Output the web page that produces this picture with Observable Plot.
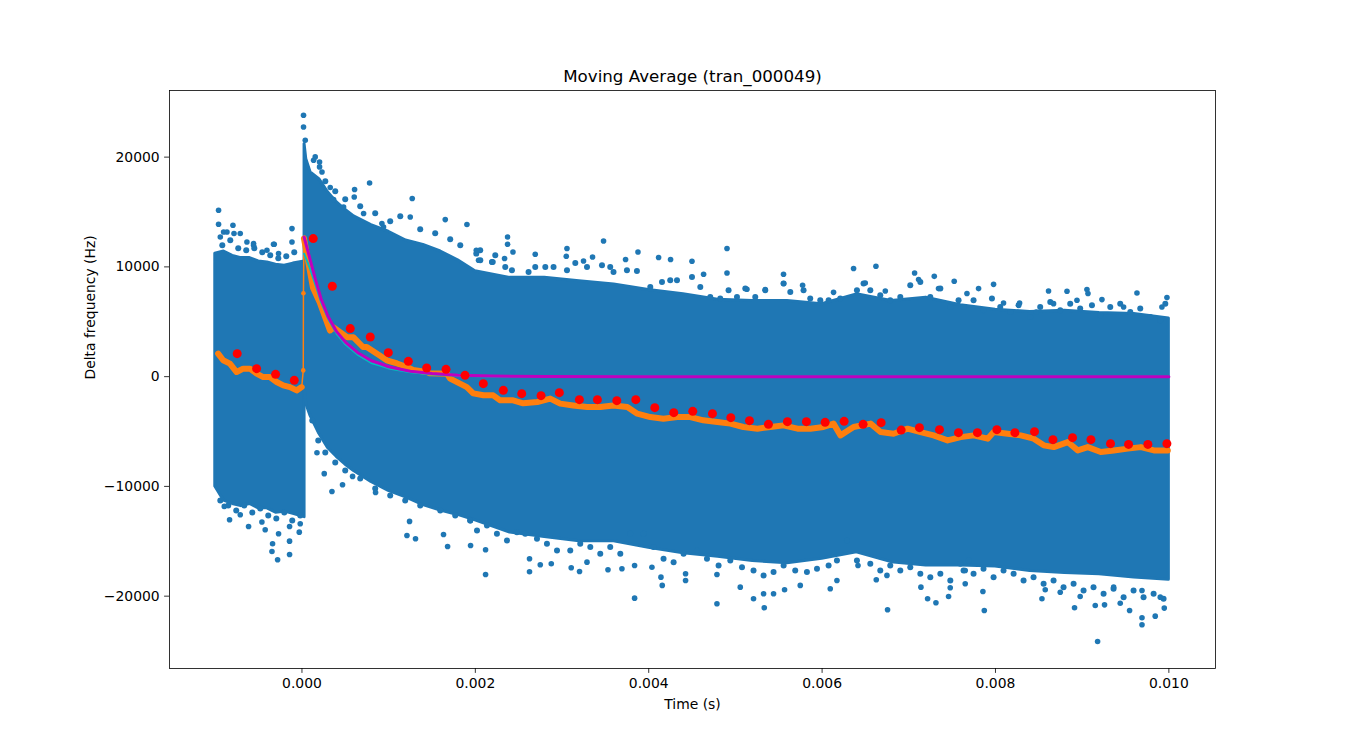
<!DOCTYPE html>
<html><head><meta charset="utf-8">
<script src="https://cdn.jsdelivr.net/npm/d3@7"></script>
<script src="https://cdn.jsdelivr.net/npm/@observablehq/plot@0.6"></script>
<style>body{margin:0;background:#fff} #chart svg{display:block}</style>
</head><body><div id="chart"></div>
<script>
// ---- Data ----
const titleText = "Moving Average (tran_000049)";
const xLabel = "Time (s)";
const yLabel = "Delta frequency (Hz)";
const xTicks = [0, 0.002, 0.004, 0.006, 0.008, 0.010];
const yTicks = [-20000, -10000, 0, 10000, 20000];

// dense core of the raw scatter (pre-trigger segment)
const preT  = [-0.00100, -0.0009, -0.0008, -0.0007, -0.0006, -0.0005, -0.0004, -0.0003, -0.0002, -0.0001, 0.00003];
const preHi = [11200, 11400, 11000, 10800, 10800, 10500, 10400, 10200, 10100, 10300, 10500];
const preLo = [-10000, -11300, -11600, -11800, -11600, -12000, -12000, -12400, -12300, -12500, -12800];

// dense core of the raw scatter (post-trigger segment)
const postT  = [0.00003, 0.00005, 0.0001, 0.0002, 0.0003, 0.0004, 0.0005, 0.0006, 0.0008, 0.0010, 0.0012, 0.0014, 0.0016, 0.0018, 0.0020, 0.0024, 0.0028, 0.0032, 0.0036, 0.0040, 0.0044, 0.0048, 0.0052, 0.0056, 0.0060, 0.0064, 0.0068, 0.0072, 0.0076, 0.0080, 0.0084, 0.0088, 0.0092, 0.0096, 0.0100];
const postHi = [21200, 19800, 18600, 18000, 16800, 15900, 15200, 14600, 13800, 13200, 12400, 12000, 11400, 10600, 9600, 9000, 9000, 8700, 8400, 7900, 7500, 7000, 6900, 6900, 6600, 7500, 6900, 7200, 6500, 6100, 5900, 6000, 5800, 5700, 5300];
const postLo = [-1000, -2500, -3600, -5200, -6500, -7300, -8000, -8600, -9600, -10400, -11000, -11700, -12200, -12600, -13100, -14200, -14600, -15000, -15000, -15600, -16100, -16400, -16800, -17000, -16600, -16000, -16900, -17200, -17200, -17300, -17700, -17900, -18000, -18300, -18500];

// scattered raw points outside the dense core
const outT = [
 -0.000962,-0.000962,-0.000796,-0.000904,-0.000712,-0.000558,-0.000320,-0.000115,-0.000115,-0.000784,-0.000558,-0.000328,-0.000270,-0.000404,-0.000635,-0.000942,-0.000865,
 0.000018,0.000018,0.000038,0.000153,0.000203,0.000231,0.000326,0.000607,0.000780,0.000603,0.001272,0.001653,0.001903,0.002192,0.001249,0.000941,0.000480,0.000134,0.000203,0.000365,0.000711,0.000922,
 0.002372,0.002372,0.002434,0.002337,0.002011,0.002037,0.002203,0.002691,0.003057,0.003049,0.003248,0.003352,0.003479,0.003876,0.003733,0.004114,0.004252,0.004499,0.004633,0.004903,0.004903,0.005555,0.005555,0.005775,0.006132,0.006363,0.006621,0.006498,0.006729,0.007067,0.007113,0.007294,0.007524,0.007343,0.005344,0.005133,
 0.007978,0.007805,0.007671,0.008093,0.008278,0.008612,0.008825,0.009055,0.009067,0.009228,0.009632,0.009478,0.009978,0.009920,0.008470,0.008670,0.008940,
 -0.000835,-0.000616,-0.000339,-0.000281,-0.000143,-0.000143,-0.000346,-0.000896,-0.000712,-0.000020,-0.000424,-0.000462,-0.000270,-0.000143,-0.000031,
 0.000173,0.000257,0.000346,0.000468,0.000584,0.000849,0.001211,0.001310,0.001241,0.001680,0.001633,0.001945,0.002118,0.002118,
 0.002625,0.002625,0.002749,0.002876,0.003106,0.003202,0.003288,0.003530,0.003691,0.003837,0.003837,0.004037,0.004141,0.004156,0.004425,0.004425,0.004787,0.004787,0.005056,0.005209,0.005333,0.005325,0.005440,0.005567,0.005748,0.006094,0.006171,0.006414,0.006625,0.006755,0.006748,0.007140,0.007217,0.007313,0.007459,0.007478,0.007651,
 0.009178,0.009690,0.009690,0.009843,0.009947,0.007871,0.007855,0.008912,0.009151,0.009258,0.009439,0.009547,0.008536,0.008574,0.008747,0.008977,0.007651,0.009901,0.009690,0.009363
];
const outV = [
 15160,13880,13790,13180,13040,11970,12060,13490,12270,13040,12120,12060,11210,11510,12270,12730,13180,
 23820,22750,21540,20020,19560,18650,17230,17050,17650,16370,16230,14310,13860,10450,14550,13640,15460,19720,19110,16140,14860,13950,
 12730,12060,11360,10760,11510,10600,10450,11150,11670,10970,10540,10900,12360,11360,10670,10850,10670,10510,9330,11670,9440,9330,8480,8320,7680,9850,10060,8530,7800,9440,8840,9140,8690,8020,7930,7960,
 8410,8020,7570,6710,6710,7800,7780,7930,7570,7020,7620,6350,7200,6350,5890,6650,6960,
 -13040,-13650,-15220,-16680,-16200,-14990,-15930,-11820,-12580,-13400,-13950,-13250,-14310,-13650,-14170,
 -6930,-8840,-10460,-9850,-9090,-10550,-14470,-14770,-13190,-15470,-14380,-15380,-15770,-18020,
 -17780,-16590,-17140,-17050,-17410,-17750,-16900,-17590,-17500,-20180,-17200,-17360,-18270,-19020,-18570,-17960,-20690,-18020,-19180,-20240,-21060,-19780,-19780,-19420,-19020,-19330,-18570,-17200,-18510,-21240,-18110,-19180,-20240,-20600,-20030,-19240,-17660,
 -24130,-22610,-21970,-21820,-21090,-21300,-19570,-21060,-20850,-20790,-20640,-21300,-20240,-19420,-19640,-20030,-18870,-20090,-19480,-19180
];

// raw points on the ragged fringe of the dense core
const fringeT = [
 -0.000919,-0.000827,-0.000735,-0.000643,-0.000550,-0.000458,-0.000366,-0.000273,-0.000181,-0.000089,
 -0.000942,-0.000850,-0.000758,-0.000666,-0.000573,-0.000481,-0.000389,-0.000296,-0.000204,-0.000112,-0.000020,
 0.000269,0.000384,0.000499,0.000672,0.000845,0.001018,0.001134,0.001364,0.001537,0.001710,0.001826,0.002056,0.002230,
 0.000119,0.000188,0.000269,0.000384,0.000499,0.000672,0.000845,0.001018,0.001191,0.001364,0.001595,0.001768,0.001941,
 0.002011,0.002057,0.002192,0.002345,0.002422,0.002614,0.002691,0.002807,0.002902,0.003057,0.003153,0.003288,0.003461,0.003556,0.003594,0.003749,0.003864,0.004018,0.004153,0.004248,0.004326,0.004499,0.004595,0.004710,0.004825,0.004921,0.005018,0.005114,0.005229,0.005344,0.005556,0.005633,0.005786,0.005863,0.005979,0.006075,0.006209,0.006402,0.006478,0.006556,0.006671,0.006786,0.006902,0.007017,0.007133,0.007248,0.007364,0.007479,0.007574,
 0.001941,0.002019,0.002134,0.002249,0.002365,0.002480,0.002576,0.002711,0.002826,0.002942,0.003095,0.003210,0.003326,0.003441,0.003556,0.003672,0.003787,0.003941,0.004056,0.004171,0.004287,0.004402,0.004556,0.004672,0.004806,0.004941,0.005076,0.005209,0.005325,0.005440,0.005556,0.005690,0.005825,0.005941,0.006075,0.006171,0.006287,0.006402,0.006556,0.006671,0.006786,0.006902,0.007017,0.007133,0.007248,0.007364,0.007479,0.007594,0.007690,
 0.007632,0.007747,0.007862,0.007959,0.008055,0.008171,0.008266,0.008401,0.008516,0.008632,0.008747,0.008862,0.008977,0.009113,0.009209,0.009324,0.009439,0.009555,0.009670,0.009785,0.009901,0.009959,
 0.007632,0.007747,0.007862,0.007978,0.008093,0.008209,0.008324,0.008439,0.008555,0.008670,0.008785,0.008901,0.009016,0.009131,0.009247,0.009362,0.009478,0.009593,0.009708,0.009824,0.009939
];
const fringeV = [
 11970,12430,11700,11510,11700,11330,11060,10780,10970,11330,
 -11280,-11730,-12190,-11730,-12370,-12010,-12640,-12920,-12370,-13100,-12640,
 17800,16890,16160,15520,14880,14150,14610,13420,13060,12510,11970,11510,11060,
 -3990,-5810,-6910,-7820,-8540,-9270,-10180,-10820,-11280,-11730,-12190,-12650,-13100,
 11210,10600,10450,9990,9690,9540,9990,9990,9990,9690,10360,9990,10150,9990,9540,9690,9630,8170,8620,8780,8780,9080,8170,7260,7110,7870,7260,8020,7260,7870,8480,7710,7870,7110,6960,6960,7110,7870,8480,7870,7410,6960,7260,8320,8620,7260,8020,6350,6960,
 -13100,-14010,-13560,-14310,-14920,-14170,-14310,-14770,-15220,-15830,-15830,-15220,-15530,-16140,-15530,-16140,-14310,-14310,-15530,-16590,-16900,-16140,-15830,-16590,-17200,-16750,-17360,-17660,-18110,-17810,-17200,-17660,-17810,-17500,-17200,-16750,-14920,-16750,-17050,-17660,-17200,-17660,-17360,-17960,-18270,-17960,-18570,-17050,-16750,
 6350,6960,6040,7110,6350,5890,6500,5430,6350,6800,6040,6650,6200,6500,5590,6350,6650,5890,6200,5430,5130,6650,
 -17660,-17960,-17500,-18270,-17660,-17960,-18570,-18270,-18870,-18570,-19180,-18870,-19480,-19180,-19780,-19330,-20090,-19480,-20090,-19780,-20240
];

// moving average (orange)
const maT = [-0.000967,-0.000909,-0.000831,-0.000754,-0.000678,-0.000600,-0.000523,-0.000447,-0.000370,-0.000292,-0.000216,-0.000139,-0.000061,-0.000003,
 0.000015,0.000017,0.000023,
 0.000127,0.000208,0.000323,0.000361,0.000520,0.000592,0.000704,0.000747,0.000901,0.000978,0.001097,0.001209,0.001282,0.001440,0.001478,0.001671,0.001709,0.001902,0.001975,0.002094,0.002206,0.002286,0.002436,0.002552,0.002714,0.002864,0.002979,0.003129,0.003291,0.003441,0.003591,0.003753,0.003868,0.004018,0.004169,0.004330,0.004480,0.004630,0.004792,0.004942,0.005092,0.005254,0.005404,0.005554,0.005716,0.005866,0.006016,0.006132,0.006212,0.006363,0.006559,0.006674,0.006824,0.006986,0.007136,0.007286,0.007448,0.007598,0.007748,0.007910,0.007979,0.008141,0.008291,0.008441,0.008557,0.008672,0.008834,0.008949,0.009065,0.009215,0.009365,0.009527,0.009677,0.009827,0.009988];
const maV = [2100,1490,1190,420,730,730,270,-40,-40,-490,-790,-950,-1250,-950,
 570,7600,12600,
 8100,6700,4200,4500,3600,3600,2700,2700,1900,1490,1200,880,600,420,300,270,-180,-950,-1520,-1700,-1700,-2160,-2160,-2430,-2310,-2000,-2460,-2620,-2770,-2770,-2620,-2770,-3370,-3680,-3830,-3680,-3680,-3980,-4140,-4280,-4590,-4740,-4590,-4440,-4740,-4740,-4590,-4280,-5350,-4590,-4280,-5050,-5200,-4740,-5050,-5350,-5810,-5510,-5350,-5650,-5050,-5200,-5350,-5650,-6260,-6420,-5960,-6720,-6420,-6870,-6720,-6560,-6420,-6720,-6720];

// binned means (red)
const binT = [-0.000747,-0.000523,-0.000304,-0.000089,0.000130,0.000350,0.000557,0.000788,0.000996,0.001227,0.001439,0.001662,0.001881,0.002092,0.002323,0.002535,0.002758,0.002969,0.003200,0.003408,0.003632,0.003851,0.004070,0.004289,0.004508,0.004735,0.004947,0.005162,0.005381,0.005600,0.005819,0.006035,0.006254,0.006473,0.006681,0.006912,0.007123,0.007354,0.007573,0.007792,0.008016,0.008224,0.008450,0.008663,0.008889,0.009101,0.009327,0.009535,0.009758,0.009977];
const binV = [2097,729,210,-337,12580,8232,4376,3610,2188,1395,784,665,119,-638,-1249,-1550,-1732,-1459,-2097,-2097,-2188,-2097,-2826,-3282,-3163,-3373,-3738,-4011,-4348,-4102,-4102,-4166,-4075,-4348,-4193,-4868,-4649,-4831,-5105,-5105,-4831,-5105,-5014,-5743,-5561,-5743,-6108,-6171,-6171,-6108];

// exponential fits (cyan, magenta)
const fitT   = [0.000025,0.000090,0.000150,0.000220,0.000300,0.000400,0.000500,0.000650,0.000800,0.000900,0.001000,0.001250,0.001500,0.001800,0.002200,0.002800,0.004000,0.010000];
const fitM   = [12700,10800,9000,7100,5500,4100,3150,2150,1450,1200,900,500,280,130,50,10,0,0];
const fitC   = [11200,9900,8500,6800,5300,3900,2950,1950,1250,1000,750,400,200,80,20,5,0,0];

// ---- Build tables ----
const pre  = preT.map((t,i)=>({t, hi: preHi[i], lo: preLo[i]}));
const post = postT.map((t,i)=>({t, hi: postHi[i], lo: postLo[i]}));
const outliers = outT.map((t,i)=>({t, v: outV[i]}));
const fringe = fringeT.map((t,i)=>({t, v: fringeV[i]}));
const ma = maT.map((t,i)=>({t, v: maV[i], seg: t < 0.00001 ? "pre" : (t < 0.00002 ? "rise" : "post")}));
const maBand = ma.filter(d => d.seg !== "rise");
const bins = binT.map((t,i)=>({t, v: binV[i]}));
const fitMag = fitT.map((t,i)=>({t, v: fitM[i]}));
const fitCyan = fitT.map((t,i)=>({t, v: fitC[i]}));

const BLUE = "#1f77b4", ORANGE = "#ff7f0e";

const chart = Plot.plot({
  width: 1350, height: 750,
  marginLeft: 169, marginRight: 135, marginTop: 90, marginBottom: 82,
  style: {fontFamily: "DejaVu Sans", fontSize: "13.9px", background: "white", color: "black"},
  x: {domain: [-0.001528, 0.010538]},
  y: {domain: [-26591, 26071]},
  marks: [
    Plot.areaY(pre,  {x: "t", y1: "lo", y2: "hi", fill: BLUE, stroke: BLUE, strokeWidth: 3, strokeLinejoin: "round"}),
    Plot.areaY(post, {x: "t", y1: "lo", y2: "hi", fill: BLUE, stroke: BLUE, strokeWidth: 3, strokeLinejoin: "round"}),
    Plot.dot(fringe, {x: "t", y: "v", r: 3, fill: BLUE}),
    Plot.dot(outliers, {x: "t", y: "v", r: 2.8, fill: BLUE}),
    Plot.line(maBand, {x: "t", y: "v", z: "seg", stroke: ORANGE, strokeWidth: 6, strokeLinejoin: "round", strokeLinecap: "round"}),
    Plot.line(ma, {x: "t", y: "v", stroke: ORANGE, strokeWidth: 1.5}),
    Plot.dot(ma, {x: "t", y: "v", r: 2.3, fill: ORANGE}),
    Plot.line(fitCyan, {x: "t", y: "v", stroke: "#00bfbf", strokeWidth: 2}),
    Plot.line(fitMag, {x: "t", y: "v", stroke: "#bf00bf", strokeWidth: 3}),
    Plot.dot(bins, {x: "t", y: "v", r: 4.5, fill: "#ff0000"}),
    Plot.frame({stroke: "black", strokeWidth: 0.8}),
    Plot.axisX({ticks: xTicks, tickFormat: d3.format(".3f"), tickSize: 4.9, tickPadding: 4.9, strokeWidth: 0.8, label: null, fontSize: 13.9}),
    Plot.axisY({ticks: yTicks, tickFormat: d3.format("d"), tickSize: 4.9, tickPadding: 4.9, strokeWidth: 0.8, label: null, fontSize: 13.9}),
    Plot.text([titleText], {frameAnchor: "top", dy: -9, lineAnchor: "bottom", fontSize: 16.7, fill: "black"}),
    Plot.text([xLabel], {frameAnchor: "bottom", dy: 40, lineAnchor: "bottom", fontSize: 13.9, fill: "black"}),
    Plot.text([yLabel], {frameAnchor: "left", dx: -79, rotate: -90, lineAnchor: "middle", fontSize: 13.9, fill: "black"})
  ]
});
document.getElementById("chart").appendChild(chart);
</script>
</body></html>
